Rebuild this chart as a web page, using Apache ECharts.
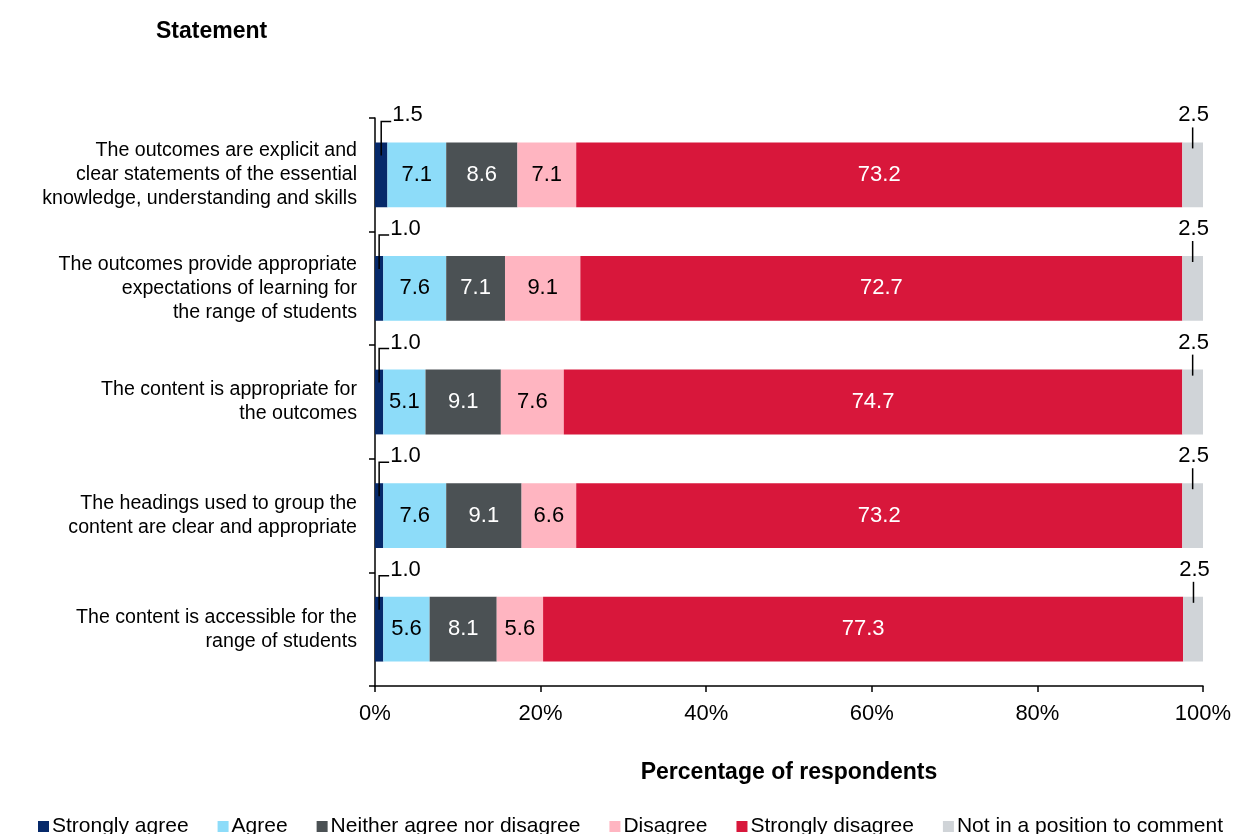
<!DOCTYPE html>
<html>
<head>
<meta charset="utf-8">
<script src="https://cdn.jsdelivr.net/npm/echarts@6/dist/echarts.min.js"></script>
<style>
  html, body { margin: 0; padding: 0; background: #fff; }
  #chart { width: 1236px; height: 834px; }
</style>
</head>
<body>
<div id="chart"></div>
<script>
// Survey statements (top to bottom)
const statements = [
  'The outcomes are explicit and\nclear statements of the essential\nknowledge, understanding and skills',
  'The outcomes provide appropriate\nexpectations of learning for\nthe range of students',
  'The content is appropriate for\nthe outcomes',
  'The headings used to group the\ncontent are clear and appropriate',
  'The content is accessible for the\nrange of students'
];

// Response shares, % of respondents
const stronglyAgree    = [1.5, 1.0, 1.0, 1.0, 1.0];
const agree            = [7.1, 7.6, 5.1, 7.6, 5.6];
const neither          = [8.6, 7.1, 9.1, 9.1, 8.1];
const disagree         = [7.1, 9.1, 7.6, 6.6, 5.6];
const stronglyDisagree = [73.2, 72.7, 74.7, 73.2, 77.3];
const notInPosition    = [2.5, 2.5, 2.5, 2.5, 2.5];

const xTicks = [0, 20, 40, 60, 80, 100];

const FONT = '"Liberation Sans", Arial, sans-serif';
const VALUE_FONT_SIZE = 22;
const BAR_RATIO = 0.57;

function stackSeries(name, data, color, labelColor) {
  return {
    name: name,
    type: 'bar',
    stack: 'total',
    data: data,
    barWidth: (BAR_RATIO * 100) + '%',
    itemStyle: { color: color },
    label: labelColor ? {
      show: true,
      position: 'inside',
      color: labelColor,
      fontFamily: FONT,
      fontSize: VALUE_FONT_SIZE,
      formatter: p => p.value.toFixed(1)
    } : { show: false },
    emphasis: { disabled: true }
  };
}

// Callout data for the two thin end segments: [category, strongly agree, start of last segment, last segment]
const calloutData = statements.map((s, i) => {
  const start = stronglyAgree[i] + agree[i] + neither[i] + disagree[i] + stronglyDisagree[i];
  return [i, stronglyAgree[i], start, notInPosition[i]];
});

function renderCallouts(params, api) {
  const cat = api.value(0);
  const sa = api.value(1);
  const npStart = api.value(2);
  const np = api.value(3);
  const bandH = api.size([0, 1])[1];
  const barH = bandH * BAR_RATIO;
  const left = api.coord([sa / 2, cat]);
  const top = left[1] - barH / 2;
  const right = api.coord([npStart + np / 2, cat]);
  const lineStyle = { stroke: '#000', lineWidth: 1.5, fill: null };
  const textStyle = { fill: '#000', fontFamily: FONT, fontSize: VALUE_FONT_SIZE };
  return {
    type: 'group',
    children: [
      {
        type: 'polyline',
        shape: { points: [[left[0], top + 13], [left[0], top - 21], [left[0] + 10, top - 21]] },
        style: lineStyle
      },
      {
        type: 'text',
        x: left[0] + 11, y: top - 27,
        style: Object.assign({ text: sa.toFixed(1), align: 'left', verticalAlign: 'middle' }, textStyle)
      },
      {
        type: 'line',
        shape: { x1: right[0], y1: top - 15, x2: right[0], y2: top + 6 },
        style: lineStyle
      },
      {
        type: 'text',
        x: right[0] + 1, y: top - 27,
        style: Object.assign({ text: np.toFixed(1), align: 'center', verticalAlign: 'middle' }, textStyle)
      }
    ]
  };
}

const chart = echarts.init(document.getElementById('chart'), null, { renderer: 'canvas' });

chart.setOption({
  animation: false,
  textStyle: { fontFamily: FONT },
  title: {
    text: 'Statement',
    left: 151, top: 15,
    textStyle: { fontFamily: FONT, fontSize: 23, fontWeight: 'bold', color: '#000' }
  },
  legend: {
    bottom: -3,
    left: 38,
    width: 1198,
    padding: 0,
    itemWidth: 11,
    itemHeight: 11,
    itemGap: 29,
    icon: 'rect',
    textStyle: { fontFamily: FONT, fontSize: 21, color: '#000', padding: [0, 0, 0, -2] },
    data: ['Strongly agree', 'Agree', 'Neither agree nor disagree', 'Disagree', 'Strongly disagree', 'Not in a position to comment']
  },
  grid: { left: 375, right: 33, top: 118, bottom: 148 },
  xAxis: {
    type: 'value',
    min: 0, max: 100, interval: 20,
    name: 'Percentage of respondents',
    nameLocation: 'middle',
    nameGap: 75,
    nameTextStyle: { fontFamily: FONT, fontSize: 23, fontWeight: 'bold', color: '#000' },
    axisLine: { show: true, lineStyle: { color: '#000', width: 1.5 } },
    axisTick: { show: true, length: 6, lineStyle: { color: '#000', width: 1.5 } },
    axisLabel: {
      color: '#000', fontFamily: FONT, fontSize: 22, margin: 17,
      formatter: v => xTicks.indexOf(v) >= 0 ? v + '%' : ''
    },
    splitLine: { show: false }
  },
  yAxis: {
    type: 'category',
    inverse: true,
    data: statements,
    axisLine: { show: true, lineStyle: { color: '#000', width: 1.5 } },
    axisTick: { show: true, length: 6, lineStyle: { color: '#000', width: 1.5 } },
    axisLabel: {
      color: '#000', fontFamily: FONT, fontSize: 19.6, lineHeight: 24, margin: 18, align: 'right'
    }
  },
  series: [
    stackSeries('Strongly agree', stronglyAgree, '#06296a', null),
    stackSeries('Agree', agree, '#8ddcf9', '#000'),
    stackSeries('Neither agree nor disagree', neither, '#4b5154', '#fff'),
    stackSeries('Disagree', disagree, '#ffb5c1', '#000'),
    stackSeries('Strongly disagree', stronglyDisagree, '#d8173b', '#fff'),
    stackSeries('Not in a position to comment', notInPosition, '#d0d4d8', null),
    {
      type: 'custom',
      name: 'callouts',
      renderItem: renderCallouts,
      data: calloutData,
      encode: { x: 1, y: 0 },
      z: 10,
      silent: true
    }
  ]
});
</script>
</body>
</html>
